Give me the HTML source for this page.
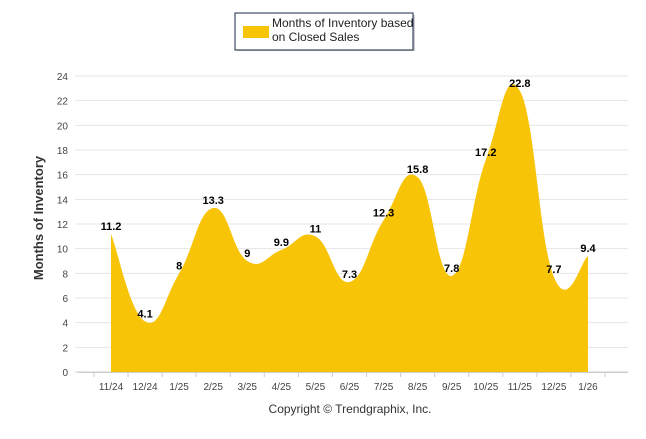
<!DOCTYPE html>
<html><head><meta charset="utf-8"><style>
body{margin:0;background:#fff;}
svg text{font-family:"Liberation Sans",sans-serif;}
</style></head><body>
<svg width="646" height="434" xmlns="http://www.w3.org/2000/svg">
<g>
<rect x="237" y="15" width="178" height="36" fill="#999" opacity="0.5"/>
<rect x="235" y="13" width="178" height="37" fill="#fff" stroke="#1a2a4a" stroke-width="1"/>
<rect x="243" y="26" width="26" height="12" fill="#F7C407"/>
<text x="272" y="27" font-size="12" fill="#222">Months of Inventory based</text>
<text x="272" y="41" font-size="12" fill="#222">on Closed Sales</text>
</g>
<g id="grid"></g>
<g id="area"></g>
<g id="labels"></g>
<text transform="translate(43,218) rotate(-90)" text-anchor="middle" font-size="13" font-weight="bold" fill="#333">Months of Inventory</text>
<text x="350" y="413" text-anchor="middle" font-size="12" fill="#333">Copyright © Trendgraphix, Inc.</text>
</svg>
<script>
const categories=["11/24","12/24","1/25","2/25","3/25","4/25","5/25","6/25","7/25","8/25","9/25","10/25","11/25","12/25","1/26"];
const values=[11.2,4.1,8,13.3,9,9.9,11,7.3,12.3,15.8,7.8,17.2,22.8,7.7,9.4];
const yTicks=[0,2,4,6,8,10,12,14,16,18,20,22,24];
const NS="http://www.w3.org/2000/svg";
const y0=372,y24=76,x0=111,dx=34.07;
const Y=v=>y0-(v/24)*(y0-y24);
const X=i=>x0+i*dx;
function mk(t,a,p){const e=document.createElementNS(NS,t);for(const k in a)e.setAttribute(k,a[k]);p.appendChild(e);return e;}
const grid=document.getElementById('grid');
yTicks.forEach(t=>{
 const l=mk('line',{x1:75,x2:628,y1:Y(t),y2:Y(t),stroke:t===0?'#ccc':'#e6e6e6','stroke-width':1},grid);
 
 
 const tx=mk('text',{x:68,y:Y(t)+4,'text-anchor':'end','font-size':10,fill:'#444'},grid);
 tx.textContent=t;
 
 
});
for(let i=0;i<=categories.length;i++){
 const xx=X(i)-dx/2-17+ (i===0?0:0);
}
mk('line',{x1:78,x2:628,y1:y0+0.5,y2:y0+0.5,stroke:'#ccc'},grid);
for(let i=0;i<=categories.length;i++){mk('line',{x1:X(i)-dx/2,x2:X(i)-dx/2,y1:y0,y2:y0+5,stroke:'#ccc'},grid);}
categories.forEach((c,i)=>{
 const tx=mk('text',{x:X(i),y:390,'text-anchor':'middle','font-size':10,fill:'#444'},grid);
 tx.textContent=c;
 
 
});
const pts=values.map((v,i)=>[X(i),Y(v)]);
let d=`M${pts[0][0]},${y0} L${pts[0][0]},${pts[0][1]}`;
for(let i=0;i<pts.length-1;i++){
 const p0=pts[Math.max(0,i-1)],p1=pts[i],p2=pts[i+1],p3=pts[Math.min(pts.length-1,i+2)];
 const t=0.22;
 const c1=[p1[0]+(p2[0]-p0[0])*t,p1[1]+(p2[1]-p0[1])*t];
 const c2=[p2[0]-(p3[0]-p1[0])*t,p2[1]-(p3[1]-p1[1])*t];
 d+=` C${c1[0]},${c1[1]} ${c2[0]},${c2[1]} ${p2[0]},${p2[1]}`;
}
d+=` L${pts[pts.length-1][0]},${y0} Z`;
const area=mk('path',{d:d,fill:'#F7C407'},document.getElementById('area'));


const lab=document.getElementById('labels');
values.forEach((v,i)=>{
 const tx=mk('text',{x:X(i),y:Y(v)-4,'text-anchor':'middle','font-size':11,'font-weight':'bold',fill:'#000'},lab);
 tx.textContent=v;
 
 
});
</script>
</body></html>
